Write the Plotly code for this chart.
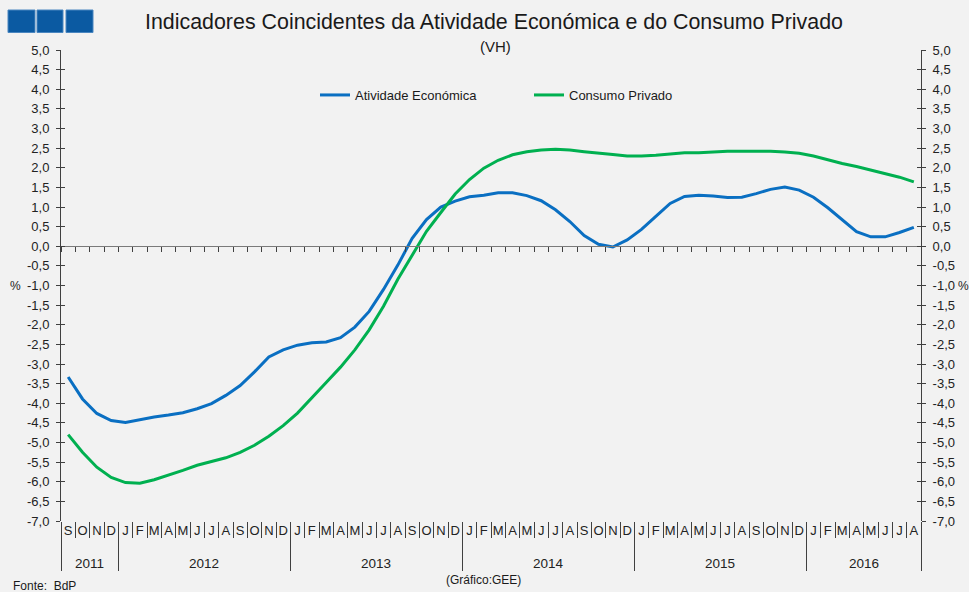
import plotly.graph_objects as go

# ---------------- data ----------------
month_labels = list("SOND") + list("JFMAMJJASOND") * 4 + list("JFMAMJJA")
year_labels = ["2011", "2012", "2013", "2014", "2015", "2016"]
months_per_year = [4, 12, 12, 12, 12, 8]

atividade = [
    -3.33, -3.89, -4.26, -4.44,                                             # 2011 S-D
    -4.49, -4.42, -4.35, -4.30, -4.24, -4.14, -4.01, -3.80, -3.55, -3.20, -2.82, -2.64,  # 2012
    -2.52, -2.46, -2.44, -2.33, -2.06, -1.66, -1.10, -0.48, 0.20, 0.68, 1.00, 1.15,      # 2013
    1.26, 1.30, 1.36, 1.36, 1.29, 1.16, 0.93, 0.63, 0.27, 0.05, -0.02, 0.16,            # 2014
    0.43, 0.76, 1.09, 1.27, 1.30, 1.28, 1.24, 1.25, 1.34, 1.45, 1.51, 1.43,             # 2015
    1.25, 0.98, 0.67, 0.37, 0.24, 0.24, 0.35, 0.48,                                     # 2016 J-A
]
consumo = [
    -4.80, -5.25, -5.63, -5.89,
    -6.02, -6.04, -5.95, -5.84, -5.71, -5.58, -5.48, -5.39, -5.25, -5.07, -4.84, -4.57,
    -4.25, -3.87, -3.47, -3.08, -2.64, -2.13, -1.53, -0.84, -0.22, 0.38, 0.86, 1.33,
    1.70, 1.99, 2.19, 2.33, 2.41, 2.45, 2.47, 2.45, 2.41, 2.38, 2.34, 2.30,
    2.30, 2.32, 2.35, 2.38, 2.38, 2.40, 2.42, 2.42, 2.42, 2.42, 2.40, 2.37,
    2.30, 2.20, 2.11, 2.03, 1.94, 1.85, 1.76, 1.64,
]
y_min, y_max, y_step = -7.0, 5.0, 0.5

# ---------------- derived ----------------
n = len(month_labels)
xs = list(range(n))
bounds = [i - 0.5 for i in range(n + 1)]
year_bounds = [-0.5]
for k in months_per_year:
    year_bounds.append(year_bounds[-1] + k)
year_centers = [(year_bounds[i] + year_bounds[i + 1]) / 2 for i in range(len(year_labels))]
y_ticks = [y_min + i * y_step for i in range(int(round((y_max - y_min) / y_step)) + 1)]
y_text = [f"{v:.1f}".replace(".", ",") for v in y_ticks]
zero_pos = (0 - y_min) / (y_max - y_min)

W, H = 969, 592
ML, MR, MT, MB = 61, 48, 50, 71
PW, PH = W - ML - MR, H - MT - MB


def px(xp):
    return (xp - ML) / PW


def py(yp):
    return (H - MB - yp) / PH


FONT = "Arial, Liberation Sans, sans-serif"
AX = "#404040"
BLUE = "#0A6FC2"
GREEN = "#00B050"
BG = "#F2F2F2"
TXT = "#1a1a1a"

fig = go.Figure()
# invisible helper traces so that the decorative overlay axes get drawn
for xa, ya in [("x2", "y"), ("x3", "y"), ("x", "y2"), ("x", "y3"), ("x", "y4")]:
    fig.add_trace(go.Scatter(x=xs, y=consumo, mode="lines", xaxis=xa, yaxis=ya,
                             line=dict(color="rgba(0,0,0,0)", width=0),
                             showlegend=False, hoverinfo="skip"))
fig.add_trace(go.Scatter(x=xs, y=atividade, mode="lines", name="Atividade Económica",
                         line=dict(color=BLUE, width=3), legend="legend"))
fig.add_trace(go.Scatter(x=xs, y=consumo, mode="lines", name="Consumo Privado",
                         line=dict(color=GREEN, width=3), legend="legend2"))

xr = [-0.5, n - 0.5]
yr = [y_min, y_max]
tickfont = dict(family=FONT, size=13, color="#222222")

fig.update_layout(
    width=W, height=H,
    margin=dict(l=ML, r=MR, t=MT, b=MB),
    paper_bgcolor=BG, plot_bgcolor=BG,
    showlegend=True,
    xaxis=dict(range=xr, tickmode="array", tickvals=xs, ticktext=month_labels,
               ticks="", showline=False, showgrid=False, zeroline=False,
               tickfont=tickfont,
               minor=dict(tickmode="array", tickvals=bounds, ticks="outside",
                          ticklen=16, tickcolor=AX, tickwidth=1, showgrid=False)),
    xaxis2=dict(range=xr, overlaying="x", anchor="free", position=zero_pos,
                tickmode="array", tickvals=bounds, ticks="outside", ticklen=5,
                tickcolor=AX, showticklabels=False, showline=True, linecolor="#7a7a7a",
                linewidth=1, showgrid=False, zeroline=False),
    xaxis3=dict(range=xr, overlaying="x", anchor="y", side="bottom",
                tickmode="array", tickvals=year_bounds, ticks="outside", ticklen=49,
                tickcolor=AX, showticklabels=False, showline=False, showgrid=False,
                zeroline=False),
    yaxis=dict(range=yr, tickmode="array", tickvals=y_ticks, ticktext=y_text,
               ticks="outside", ticklen=4, tickcolor=AX, showline=True, linecolor=AX,
               showgrid=False, zeroline=False, tickfont=tickfont, ticklabelstandoff=4),
    yaxis3=dict(range=yr, overlaying="y", side="left", tickmode="array", tickvals=y_ticks,
                ticks="inside", ticklen=4, tickcolor=AX, showticklabels=False,
                showline=False, showgrid=False, zeroline=False),
    yaxis2=dict(range=yr, overlaying="y", side="right", tickmode="array", tickvals=y_ticks,
                ticktext=y_text, ticks="outside", ticklen=4, tickcolor=AX, showline=True,
                linecolor=AX, showgrid=False, zeroline=False, tickfont=tickfont,
                ticklabelstandoff=4),
    yaxis4=dict(range=yr, overlaying="y", side="right", tickmode="array", tickvals=y_ticks,
                ticks="inside", ticklen=4, tickcolor=AX, showticklabels=False,
                showline=False, showgrid=False, zeroline=False),
    legend=dict(x=px(315), y=py(95), xanchor="left", yanchor="middle",
                bgcolor="rgba(0,0,0,0)", font=dict(family=FONT, size=13, color=TXT)),
    legend2=dict(x=px(529), y=py(95), xanchor="left", yanchor="middle",
                 bgcolor="rgba(0,0,0,0)", font=dict(family=FONT, size=13, color=TXT)),
    hovermode=False,
)

annotations = [
    dict(text="Indicadores Coincidentes da Atividade Económica e do Consumo Privado",
         x=px(494), y=py(22), xref="paper", yref="paper", showarrow=False,
         font=dict(family=FONT, size=21.4, color=TXT), xanchor="center", yanchor="middle"),
    dict(text="(VH)", x=px(495), y=py(46), xref="paper", yref="paper", showarrow=False,
         font=dict(family=FONT, size=15, color=TXT), xanchor="center", yanchor="middle"),
    dict(text="Fonte:  BdP", x=px(11), y=py(586), xref="paper", yref="paper", showarrow=False,
         font=dict(family=FONT, size=12, color=TXT), xanchor="left", yanchor="middle"),
    dict(text="(Gráfico:GEE)", x=px(483), y=py(580), xref="paper", yref="paper", showarrow=False,
         font=dict(family=FONT, size=12, color=TXT), xanchor="center", yanchor="middle"),
    dict(text="%", x=px(23), y=-1.0, xref="paper", yref="y", showarrow=False,
         font=dict(family=FONT, size=12, color="#222222"), xanchor="right", yanchor="middle"),
    dict(text="%", x=px(956), y=-1.0, xref="paper", yref="y", showarrow=False,
         font=dict(family=FONT, size=12, color="#222222"), xanchor="left", yanchor="middle"),
]
for yl, yc in zip(year_labels, year_centers):
    annotations.append(dict(text=yl, x=yc, y=py(563), xref="x", yref="paper", showarrow=False,
                            font=dict(family=FONT, size=13.5, color="#222222"),
                            xanchor="center", yanchor="middle"))
fig.update_layout(annotations=annotations)

shapes = []
for x0, x1 in [(8, 35), (37, 63), (66, 93)]:
    shapes.append(dict(type="rect", xref="paper", yref="paper", x0=px(x0), x1=px(x1),
                       y0=py(32.5), y1=py(10), fillcolor="#0B5AA2",
                       line=dict(color="#4a86c0", width=1)))
fig.update_layout(shapes=shapes)

fig.write_html("out.html", config={"displayModeBar": False},
               post_script="document.body.style.margin='0';")
